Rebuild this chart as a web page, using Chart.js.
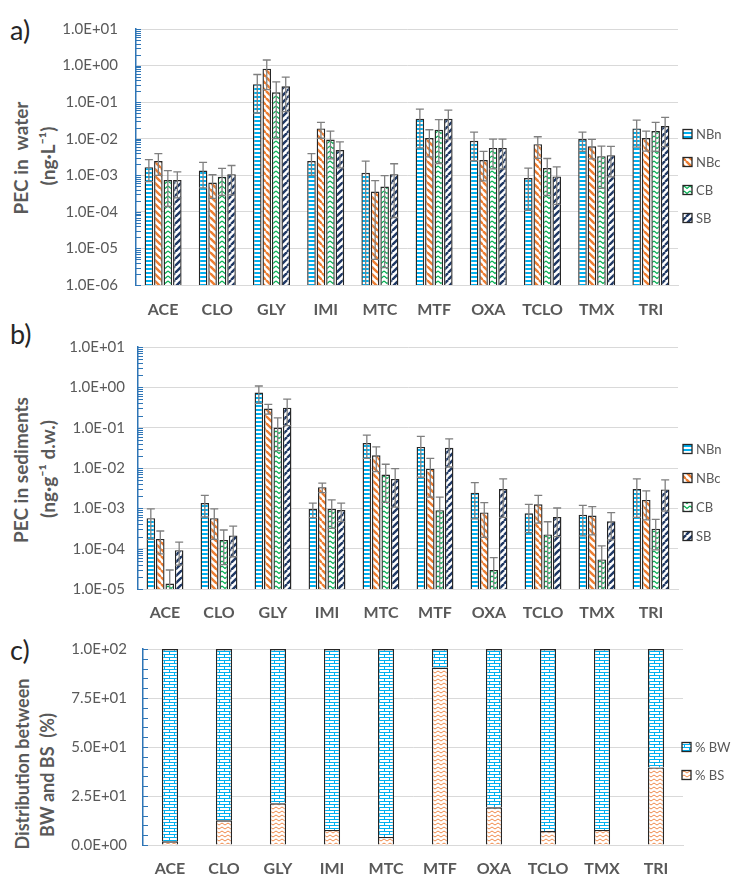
<!DOCTYPE html>
<html>
<head>
<meta charset="utf-8">
<script src="https://cdn.jsdelivr.net/npm/chart.js@4.4.1/dist/chart.umd.min.js"></script>
<style>
  body { margin: 0; background: #fff; }
  #wrap { position: relative; width: 732px; height: 877px; overflow: hidden; font-family: Lato, sans-serif; }
  canvas { position: absolute; left: 0; }
  .panel { position: absolute; font-size: 27px; color: #262626; line-height: 1; }
  .ytitle { position: absolute; white-space: nowrap; font-weight: bold; color: #595959; line-height: 1;
            transform: translate(-50%, -50%) rotate(-90deg); }
</style>
</head>
<body>
<div id="wrap">
  <div class="panel" style="left:10px;top:16px">a)</div>
  <div class="panel" style="left:10px;top:320px">b)</div>
  <div class="panel" style="left:10px;top:636px">c)</div>
  <div class="ytitle" style="left:20px;top:158px;font-size:19px">PEC in &nbsp;water</div>
  <div class="ytitle" style="left:47px;top:156px;font-size:19px">(ng·L⁻¹)</div>
  <div class="ytitle" style="left:20px;top:470px;font-size:19px">PEC in sediments</div>
  <div class="ytitle" style="left:47px;top:469px;font-size:19px">(ng·g⁻¹ d.w.)</div>
  <div class="ytitle" style="left:22px;top:764px;font-size:18px">Distribution between</div>
  <div class="ytitle" style="left:47px;top:775px;font-size:18px">BW and BS &nbsp;(%)</div>
  <canvas id="chartA" width="732" height="325" style="top:0px"></canvas>
  <canvas id="chartB" width="732" height="297" style="top:325px"></canvas>
  <canvas id="chartC" width="732" height="255" style="top:622px"></canvas>
</div>
<script>
const compounds = ['ACE', 'CLO', 'GLY', 'IMI', 'MTC', 'MTF', 'OXA', 'TCLO', 'TMX', 'TRI'];
const seriesNames = ['NBn', 'NBc', 'CB', 'SB'];

// a) PEC in water (ng/L), mean and sd
const waterNBn = [1.67e-3, 1.35e-3, 0.31, 2.44e-3, 1.17e-3, 0.0351, 8.8e-3, 8.4e-4, 9.8e-3, 0.0191];
const waterNBc = [2.44e-3, 6.35e-4, 0.82, 0.0191, 3.6e-4, 0.0104, 2.6e-3, 7.1e-3, 6.2e-3, 0.0104];
const waterCB  = [7.4e-4, 9.1e-4, 0.185, 9.5e-3, 4.93e-4, 0.0176, 5.6e-3, 1.58e-3, 3.34e-3, 0.0162];
const waterSB  = [7.4e-4, 1.07e-3, 0.27, 4.9e-3, 1.07e-3, 0.0351, 5.6e-3, 9.3e-4, 3.55e-3, 0.0221];
const waterNBnSd = [1.0e-3, 9.0e-4, 0.26, 1.45e-3, 1.27e-3, 0.0295, 6.3e-3, 7.3e-4, 5.3e-3, 0.0132];
const waterNBcSd = [1.45e-3, 4.0e-4, 0.6, 8.8e-3, 3.55e-4, 7.2e-3, 1.9e-3, 4.2e-3, 3.4e-3, 5.8e-3];
const waterCBSd  = [6.0e-4, 6.3e-4, 0.175, 6.7e-3, 4.9e-4, 0.0155, 4.1e-3, 1.3e-3, 2.9e-3, 0.0117];
const waterSBSd  = [5.0e-4, 7.8e-4, 0.215, 3.3e-3, 1.0e-3, 0.0256, 4.1e-3, 7.7e-4, 2.65e-3, 0.016];

// b) PEC in sediments (ng/g d.w.), mean and sd
const sedNBn = [5.7e-4, 1.35e-3, 0.74, 9.7e-4, 0.0414, 0.0333, 2.45e-3, 7.5e-4, 6.97e-4, 3.0e-3];
const sedNBc = [1.74e-4, 5.7e-4, 0.297, 3.34e-3, 0.0207, 9.6e-3, 7.9e-4, 1.26e-3, 6.6e-4, 1.62e-3];
const sedCB  = [1.36e-5, 1.65e-4, 0.101, 9.7e-4, 6.9e-3, 9.0e-4, 2.97e-5, 2.25e-4, 5.4e-5, 3.13e-4];
const sedSB  = [9.2e-5, 2.13e-4, 0.313, 9.1e-4, 5.37e-3, 0.0316, 3.0e-3, 6.1e-4, 4.75e-4, 2.95e-3];
const sedNBnSd = [4.0e-4, 7.4e-4, 0.34, 3.8e-4, 0.024, 0.0274, 1.9e-3, 5.0e-4, 4.9e-4, 2.4e-3];
const sedNBcSd = [1.0e-4, 4.0e-4, 0.08, 9.0e-4, 0.0126, 7.7e-3, 6.0e-4, 8.3e-4, 4.4e-4, 1.1e-3];
const sedCBSd  = [1.6e-5, 1.25e-4, 0.074, 6.5e-4, 5.5e-3, 1.0e-3, 3.0e-5, 2.4e-4, 6.3e-5, 2.2e-4];
const sedSBSd  = [5.3e-5, 1.5e-4, 0.2, 4.4e-4, 4.3e-3, 0.021, 2.4e-3, 4.1e-4, 3.1e-4, 2.1e-3];

// c) distribution between BW and BS (%)
const pctBW = [98.1, 87.4, 78.7, 92.3, 95.9, 9.5, 80.8, 92.9, 92.3, 60.4];
const pctBS = [1.9, 12.6, 21.3, 7.7, 4.1, 90.5, 19.2, 7.1, 7.7, 39.6];

const waterTicks = [1e-6, 1e-5, 1e-4, 1e-3, 1e-2, 1e-1, 1, 10];
const sedTicks = [1e-5, 1e-4, 1e-3, 1e-2, 1e-1, 1, 10];
const distTicks = [0, 25, 50, 75, 100];
const logMinorSteps = [2, 3, 4, 5, 6, 7, 8, 9];
const distMinorStep = 5;

const GRID = '#D9D9D9';
const TXT = '#595959';
const AXIS = '#2E75B6';
const EDGE = '#262626';

function fmtE(v) {
    const [m, e] = Number(v).toExponential(1).split('e');
    const n = parseInt(e, 10);
    return m + 'E' + (n < 0 ? '-' : '+') + String(Math.abs(n)).padStart(2, '0');
}

function tile(w, h, draw) {
    const c = document.createElement('canvas');
    c.width = w; c.height = h;
    const g = c.getContext('2d');
    g.fillStyle = '#fff';
    g.fillRect(0, 0, w, h);
    draw(g);
    return g.createPattern(c, 'repeat');
}

const patNBn = tile(4, 4, g => { g.fillStyle = '#00B0F0'; g.fillRect(0, 0, 4, 2); });
const patNBc = tile(7, 7, g => {
    g.strokeStyle = '#ED7D31'; g.lineWidth = 2.4;
    for (let k = -1; k <= 1; k++) { g.beginPath(); g.moveTo(k * 7, 0); g.lineTo(k * 7 + 7, 7); g.stroke(); }
});
const patCB = tile(6, 5, g => {
    g.strokeStyle = '#00B050'; g.lineWidth = 1.3;
    g.beginPath(); g.moveTo(0, 1); g.lineTo(3, 3.5); g.lineTo(6, 1); g.stroke();
});
const patSB = tile(7, 7, g => {
    g.strokeStyle = '#1F3864'; g.lineWidth = 2.4;
    for (let k = -1; k <= 1; k++) { g.beginPath(); g.moveTo(k * 7, 7); g.lineTo(k * 7 + 7, 0); g.stroke(); }
});
const patBW = tile(10, 6, g => {
    g.fillStyle = '#00B0F0'; g.fillRect(0, 0, 10, 6);
    g.fillStyle = '#fff';
    g.fillRect(0, 0, 9, 2);
    g.fillRect(5, 3, 5, 2); g.fillRect(0, 3, 4, 2);
});
const patBS = tile(6, 4, g => {
    g.strokeStyle = '#F08A4B'; g.lineWidth = 1;
    g.beginPath(); g.moveTo(0, 1); g.lineTo(3, 3); g.lineTo(6, 1); g.stroke();
});

// error bars: mean +/- sd, drawn through the y scale
const errBars = {
    id: 'errBars',
    afterDatasetsDraw(chart, args, o) {
        if (!o.sd) return;
        const ctx = chart.ctx, ys = chart.scales.y, area = chart.chartArea;
        ctx.save();
        ctx.strokeStyle = '#7F7F7F';
        ctx.lineWidth = 1.3;
        chart.data.datasets.forEach((ds, i) => {
            chart.getDatasetMeta(i).data.forEach((bar, j) => {
                const v = ds.data[j], e = o.sd[i][j];
                const yt = ys.getPixelForValue(v + e);
                const hasLow = v - e > ys.min;
                const yb = hasLow ? ys.getPixelForValue(v - e) : area.bottom;
                ctx.beginPath();
                ctx.moveTo(bar.x, yt); ctx.lineTo(bar.x, yb);
                ctx.moveTo(bar.x - 4, yt); ctx.lineTo(bar.x + 4, yt);
                if (hasLow) { ctx.moveTo(bar.x - 4, yb); ctx.lineTo(bar.x + 4, yb); }
                ctx.stroke();
            });
        });
        ctx.restore();
    }
};

// small tick marks inside the y axis line
const minorTicks = {
    id: 'minorTicks',
    afterDraw(chart, args, o) {
        if (!o.values) return;
        const ctx = chart.ctx, ys = chart.scales.y, x0 = chart.chartArea.left;
        ctx.save();
        ctx.strokeStyle = AXIS;
        ctx.lineWidth = 1;
        ctx.beginPath();
        o.values.forEach(v => {
            const py = Math.round(ys.getPixelForValue(v)) + 0.5;
            ctx.moveTo(x0, py); ctx.lineTo(x0 + 5, py);
        });
        ctx.stroke();
        ctx.restore();
    }
};

// legend with patterned boxes on the right
const boxLegend = {
    id: 'boxLegend',
    afterDraw(chart, args, o) {
        if (!o.order) return;
        const ctx = chart.ctx, a = chart.chartArea;
        ctx.save();
        ctx.font = '13px Lato';
        ctx.textBaseline = 'middle';
        o.order.forEach((di, k) => {
            const ds = chart.data.datasets[di];
            const x = a.right + o.dx, y = a.top + o.dy + k * o.gap;
            ctx.fillStyle = ds.backgroundColor;
            ctx.fillRect(x, y - 4.5, 9, 9);
            ctx.strokeStyle = EDGE;
            ctx.lineWidth = 1.3;
            ctx.strokeRect(x, y - 4.5, 9, 9);
            ctx.fillStyle = TXT;
            ctx.fillText(ds.label, x + 13, y + 0.5);
        });
        ctx.restore();
    }
};

Chart.register(errBars, minorTicks, boxLegend);

function logMinors(decades) {
    const out = [];
    decades.forEach((d, i) => {
        if (i < decades.length - 1) logMinorSteps.forEach(s => out.push(d * s));
    });
    return out.concat(decades);
}

function xScale(height, pad) {
    return {
        grid: { display: false, drawTicks: false },
        border: { color: GRID },
        ticks: { color: TXT, font: { family: 'Lato', weight: 'bold', size: 16 }, padding: pad, maxRotation: 0 },
        afterFit: s => { s.height = height; }
    };
}

function logPanel(id, values, sds, ticks, layout) {
    const pats = [patNBn, patNBc, patCB, patSB];
    new Chart(document.getElementById(id), {
        type: 'bar',
        data: {
            labels: compounds,
            datasets: values.map((vals, i) => ({
                label: seriesNames[i],
                data: vals,
                backgroundColor: pats[i],
                borderColor: EDGE,
                borderWidth: 1.4,
                categoryPercentage: 0.7,
                barPercentage: 0.9
            }))
        },
        options: {
            responsive: false,
            animation: false,
            layout: { padding: { top: layout.top, right: layout.right, left: 0, bottom: 0 } },
            plugins: {
                legend: { display: false },
                tooltip: { enabled: false },
                errBars: { sd: sds },
                minorTicks: { values: logMinors(ticks) },
                boxLegend: { order: [0, 1, 2, 3], dx: layout.legendDx, dy: layout.legendDy, gap: layout.legendGap }
            },
            scales: {
                x: xScale(layout.xHeight, layout.xPad),
                y: {
                    type: 'logarithmic',
                    min: ticks[0],
                    max: ticks[ticks.length - 1],
                    afterBuildTicks: s => { s.ticks = ticks.map(v => ({ value: v })); },
                    grid: { color: GRID, drawTicks: false },
                    border: { color: AXIS, width: 1.5 },
                    ticks: { callback: v => fmtE(v), color: TXT, font: { family: 'Lato', size: 15 }, padding: layout.yPad },
                    afterFit: s => { s.width = layout.left; }
                }
            }
        }
    });
}

logPanel('chartA', [waterNBn, waterNBc, waterCB, waterSB], [waterNBnSd, waterNBcSd, waterCBSd, waterSBSd], waterTicks,
    { top: 29, right: 54, left: 136, yPad: 18, xHeight: 40, xPad: 15, legendDx: 5, legendDy: 105, legendGap: 28 });

logPanel('chartB', [sedNBn, sedNBc, sedCB, sedSB], [sedNBnSd, sedNBcSd, sedCBSd, sedSBSd], sedTicks,
    { top: 12, right: 54, left: 138, yPad: 13, xHeight: 33, xPad: 14, legendDx: 5, legendDy: 102, legendGap: 29 });

new Chart(document.getElementById('chartC'), {
    type: 'bar',
    data: {
        labels: compounds,
        datasets: [
            { label: '% BS', data: pctBS, backgroundColor: patBS, borderColor: EDGE, borderWidth: 1.4, categoryPercentage: 0.3, barPercentage: 1 },
            { label: '% BW', data: pctBW, backgroundColor: patBW, borderColor: EDGE, borderWidth: 1.4, categoryPercentage: 0.3, barPercentage: 1 }
        ]
    },
    options: {
        responsive: false,
        animation: false,
        layout: { padding: { top: 27, right: 49, left: 0, bottom: 0 } },
        plugins: {
            legend: { display: false },
            tooltip: { enabled: false },
            minorTicks: { values: Array.from({ length: 100 / distMinorStep + 1 }, (_, i) => i * distMinorStep) },
            boxLegend: { order: [1, 0], dx: -1, dy: 98, gap: 28 }
        },
        scales: {
            x: Object.assign(xScale(32, 14), { stacked: true }),
            y: {
                stacked: true,
                min: 0,
                max: 100,
                afterBuildTicks: s => { s.ticks = distTicks.map(v => ({ value: v })); },
                grid: { color: GRID, drawTicks: false },
                border: { color: AXIS, width: 1.5 },
                ticks: { callback: v => fmtE(v), color: TXT, font: { family: 'Lato', size: 15 }, padding: 16 },
                afterFit: s => { s.width = 143; }
            }
        }
    }
});
</script>
</body>
</html>
